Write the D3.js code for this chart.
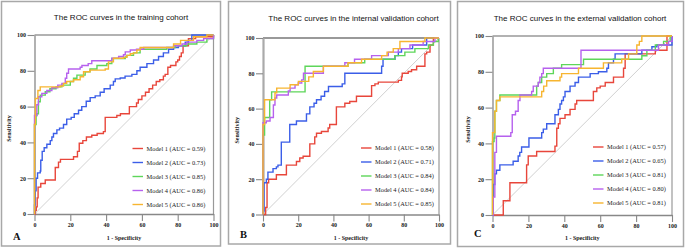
<!DOCTYPE html>
<html><head><meta charset="utf-8">
<script src="https://cdn.jsdelivr.net/npm/d3@7/dist/d3.min.js"></script>
<style>html,body{margin:0;padding:0;background:#fff;}svg{display:block;}</style>
</head><body>
<svg id="c" width="685" height="249"></svg>
<script>
// ---------- DATA (fpr %, sensitivity %) ----------
const axisTicks = [0, 20, 40, 60, 80, 100];
const modelNames = ["Model 1", "Model 2", "Model 3", "Model 4", "Model 5"];
const titles = ["The ROC curves in the training cohort", "The ROC curves in the internal validation cohort", "The ROC curves in the external validation cohort"];
const panelLetters = ["A", "B", "C"];
const aucTrain = ["0.59", "0.73", "0.85", "0.86", "0.86"];
const aucInternal = ["0.58", "0.71", "0.84", "0.84", "0.85"];
const aucExternal = ["0.57", "0.65", "0.81", "0.80", "0.81"];
const colors = ["#e8463b", "#3b5ee8", "#5ed65a", "#b661ee", "#f7b530"];

const train1 = [[0,0],[0.5,2],[1,4],[1.5,9],[2,15],[3.5,17],[6,19],[11.6,26],[13.4,29],[14.5,30.5],[21.8,32],[24,35],[25,39.5],[27,41],[29,43],[32,44],[35,45],[38.5,46],[39.5,54],[46,55],[48,56],[53,60],[57,62],[58,64],[60,66],[62,68],[64,70],[66,72],[68,74],[70,75],[72,77],[73,78],[74.5,82],[76,83],[79,85],[80,86],[81,88],[82,90],[83,94],[86,98],[90,99],[100,100]];
const train2 = [[0,0],[0,5],[0.4,13],[0.9,20],[1.7,23],[3.2,24],[3.5,30],[4.3,35],[5.4,37],[6.9,39],[8.8,41],[9.7,43],[10.6,45],[12.5,47],[14,48],[16.2,50],[18,53],[20.5,54],[22.2,56],[24.6,58],[26.4,60],[28.9,63],[31.1,65],[33.9,66],[36.7,68],[38.9,70],[42.3,72],[44.1,74],[45.1,75.5],[47.9,76],[50.6,77],[54.4,78],[57.2,80],[59,82],[62.8,84],[66.5,86],[69.3,88],[72,90],[74.9,92],[77.7,93],[80.4,94],[84.2,96],[86,97],[87.9,100],[100,100]];
const train3 = [[0,0],[0,50],[0.9,55],[1.3,56],[2.2,62.7],[3.2,66.4],[6,68.3],[8.6,70],[12,71],[15.3,72],[20,74],[21.8,75.8],[23.7,77.6],[28.3,79.5],[31,81],[34.9,83],[40.4,84],[43.2,86.9],[50.7,87.8],[51.6,88.6],[55.3,90],[59,92],[73.9,93],[78.6,94],[85.1,95],[90.7,96],[96.3,98],[100,100]];
const train4 = [[0,0],[0,55],[1.3,61],[2.2,65.5],[4.1,67.4],[6.9,69],[9.7,70.5],[13,72],[15.3,73],[17.2,75.8],[18,78.6],[19,81],[25.5,82],[26.5,83],[30,84],[32,85.6],[43.2,87],[47,88],[49.7,89],[50.7,90.6],[53.5,91.6],[57,92],[61,93],[77.7,94],[82.4,95],[85.1,96],[90.7,97],[94.5,98],[100,100]];
const train5 = [[0,0],[0,50],[0.5,64.5],[1.9,69],[3.2,71],[14.4,71.5],[16.2,73],[18,74],[21.8,75],[25.5,76.7],[27.4,79.5],[31,80.4],[39.5,81],[41.3,85],[44.1,87],[49.7,87.5],[51.6,88.6],[53.5,89.5],[55.3,90],[57.2,91.6],[59,93],[75.8,93],[77.7,95],[81.6,97],[88.8,99],[96.3,100],[100,100]];

const int1 = [[0,0],[1.5,4],[2.3,18],[3.2,20],[7.6,22.5],[13.3,28],[19,30],[20.9,32],[22.8,33],[26.6,40],[29.4,44],[30.4,46],[33.2,47],[37,49],[37.9,51],[41.7,61],[46.5,63],[49.3,64],[53.1,67],[61.7,73],[63.6,74],[65.5,75],[76.9,76],[78.7,78],[79.1,80],[82.5,81],[84.4,82],[87.3,84],[92,91],[93,92],[94.9,96],[96.8,100],[100,100]];
const int2 = [[0,0],[0,2],[0.6,18],[1.9,20],[2.8,24],[5.7,26],[7.6,27],[8.5,28],[10.4,41],[15.2,51],[19,53],[24.7,57],[26.6,61],[29,63],[30.4,65],[33,67],[35,69.7],[37.2,72.5],[45,74],[46.5,80],[67.4,84],[68.2,88],[75,90],[76.9,92],[78.7,94],[85,96],[93,100],[100,100]];
const int3 = [[0,0],[0,45],[0.9,55],[3.8,65],[4.9,69.5],[23.9,84],[45.5,84],[48.3,86],[57.8,88],[74.9,90],[80.6,92],[86.3,94],[94,96],[96.8,98],[99.6,100],[100,100]];
const int4 = [[0,0],[0,52],[1.9,53],[4,55],[5.9,62],[6.8,66],[7.8,67.7],[14.4,70],[15.4,71.6],[18.2,73.5],[20,74.5],[22,76.3],[23,80],[34.3,84],[46.5,86],[52,88],[61.7,90],[71.2,92],[76.9,94],[83.5,96],[91,98],[97.7,100],[100,100]];
const int5 = [[0,0],[0,51],[0.9,65],[6.8,69],[7.8,71.6],[15.4,73.5],[20.1,75.4],[26,78],[28.6,81],[34.3,84],[48.3,86],[56,88],[67.4,90],[70.5,92],[74,94],[77.8,98],[92,100],[100,100]];

const ext1 = [[0,0],[6,8],[9.7,18],[19,28],[19.9,33],[24.6,35.5],[34.8,38.5],[35.8,48.5],[36.7,51],[37.6,54],[40.4,56],[43.2,59],[46,62],[46.9,64],[56.2,69],[58.1,71],[60,72],[62.8,74],[67.4,77],[73,82],[73.9,90],[90.7,92],[97.2,100],[100,100]];
const ext2 = [[0,0],[0.4,17],[1.3,23],[2.2,25],[4.1,28],[11.5,30],[14.3,33],[15.2,35],[16.2,38],[20.3,43],[27.4,46],[28.3,48],[30.2,51],[34.8,56],[36.7,59],[37.6,62],[38.5,64],[39.5,66],[40.4,69],[43.2,72],[46,74],[47.9,77],[54.4,79],[59,80],[63.7,82],[64.6,85],[67.4,87],[68.3,90],[83.2,92],[88.8,94],[91.6,95],[100,100]];
const ext3 = [[0,0],[0,41],[0.9,43],[1.3,58],[2.2,64],[4.1,67],[24.6,72],[25.5,74],[27.4,77],[30.2,79],[33.9,82],[38.5,84],[50.7,87],[83.2,89],[86,92],[90.7,95],[95.3,97],[99,100],[100,100]];
const ext4 = [[0,0],[0.4,10],[1.3,35],[2.2,44],[10.2,46],[11,56],[12.8,58],[14.3,64],[15.3,67],[21.8,69],[22.7,72],[25.5,74],[26.4,77],[27.4,79],[28.3,82],[49.3,92],[92.5,95],[98.1,97],[100,100]];
const ext5 = [[0,0],[0,46],[1.3,58],[2.2,64],[4.1,66],[27.4,69],[28.5,72],[30.2,75],[37.6,77],[38.5,79],[47.9,82],[61.8,85],[72,87],[75.8,90],[80.4,95],[81.8,97],[83.2,100],[100,100]];

// ---------- LAYOUT ----------
const panels = [
  {box:[1.5,1.5,219,244.5], x0:34.5, x1:213.5, yT:35, yB:214, tx:121, ty:20, lx:13, ly:240, legX:132.5, legY:148.5, ylab:8.5,
   series:[train1,train2,train3,train4,train5], auc:aucTrain},
  {box:[228.5,1.5,222,242.5], x0:263, x1:439, yT:38, yB:214.5, tx:353.5, ty:21, lx:240, ly:238, legX:361, legY:148, ylab:236.5,
   series:[int1,int2,int3,int4,int5], auc:aucInternal},
  {box:[457.5,1.5,226,245], x0:492.5, x1:672, yT:36, yB:215, tx:580, ty:21, lx:474, ly:237, legX:593, legY:147, ylab:467.5,
   series:[ext1,ext2,ext3,ext4,ext5], auc:aucExternal}
];

const svg = d3.select("#c");
const serif = "'Liberation Serif','Times New Roman',serif";
const sans = "'Liberation Sans',Arial,sans-serif";

panels.forEach((p, pi) => {
  const g = svg.append("g");
  g.append("rect").attr("x", p.box[0]).attr("y", p.box[1]).attr("width", p.box[2]).attr("height", p.box[3])
    .attr("fill", "none").attr("stroke", "#a8a8a8").attr("stroke-width", 1.5);

  const x = d3.scaleLinear().domain([0,100]).range([p.x0, p.x1]);
  const y = d3.scaleLinear().domain([0,100]).range([p.yB, p.yT]);

  // frame top/right
  g.append("line").attr("x1", x(0)).attr("x2", x(100)).attr("y1", y(100)).attr("y2", y(100))
    .attr("stroke", "#999").attr("stroke-width", pi===1?2.2:1.5);
  g.append("line").attr("x1", x(100)).attr("x2", x(100)).attr("y1", y(100)).attr("y2", y(0))
    .attr("stroke", "#999").attr("stroke-width", 1.2);

  // diagonal
  g.append("line").attr("x1", x(0)).attr("y1", y(0)).attr("x2", x(100)).attr("y2", y(100))
    .attr("stroke", "#c4c4c4").attr("stroke-width", 0.8);

  // axes
  const ax = g.append("g").attr("transform", `translate(0,${p.yB})`)
    .call(d3.axisBottom(x).tickValues(axisTicks).tickSize(7).tickSizeOuter(0).tickPadding(1.5));
  const ay = g.append("g").attr("transform", `translate(${p.x0},0)`)
    .call(d3.axisLeft(y).tickValues(axisTicks).tickSize(7).tickSizeOuter(0).tickPadding(1.5));
  [ax, ay].forEach(a => {
    a.select(".domain").attr("stroke", "#888").attr("stroke-width", 1.3);
    a.selectAll(".tick line").attr("stroke", "#888").attr("stroke-width", 1.1);
    a.selectAll(".tick text").attr("font-family", serif).attr("font-weight", "bold").attr("font-size", 6).attr("fill", "#222");
  });
  if (pi === 1) ay.select(".domain").attr("stroke", "#aaa").attr("stroke-width", 2.2);

  // curves
  const line = d3.line().x(d => x(d[0])).y(d => y(d[1])).curve(d3.curveStepAfter);
  p.series.forEach((s, i) => {
    g.append("path").datum(s).attr("d", line).attr("fill", "none")
      .attr("stroke", colors[i]).attr("stroke-width", 1.4).attr("stroke-linejoin", "miter");
  });

  // legend
  modelNames.forEach((m, i) => {
    const ly = p.legY + i * 14;
    g.append("line").attr("x1", p.legX).attr("x2", p.legX + 10.5).attr("y1", ly).attr("y2", ly)
      .attr("stroke", colors[i]).attr("stroke-width", 1.4);
    g.append("text").attr("x", p.legX + 14).attr("y", ly + 2).text(`${m} (AUC = ${p.auc[i]})`)
      .attr("font-family", serif).attr("font-size", 6.4).attr("fill", "#222");
  });

  // titles & labels
  g.append("text").attr("x", p.tx).attr("y", p.ty).attr("text-anchor", "middle").text(titles[pi])
    .attr("font-family", sans).attr("font-size", 8).attr("fill", "#111");
  g.append("text").attr("x", (p.x0 + p.x1) / 2).attr("y", 240).attr("text-anchor", "middle").text("1 - Specificity")
    .attr("font-family", serif).attr("font-weight", "bold").attr("font-size", 6).attr("fill", "#222");
  g.append("text").attr("transform", `translate(${p.ylab + 2},${(p.yT + p.yB) / 2 + 4}) rotate(-90)`)
    .attr("text-anchor", "middle").text("Sensitivity")
    .attr("font-family", serif).attr("font-weight", "bold").attr("font-size", 6).attr("fill", "#222");
  g.append("text").attr("x", p.lx).attr("y", p.ly).text(panelLetters[pi])
    .attr("font-family", serif).attr("font-weight", "bold").attr("font-size", 10.5).attr("fill", "#111");
});
</script>
</body></html>
